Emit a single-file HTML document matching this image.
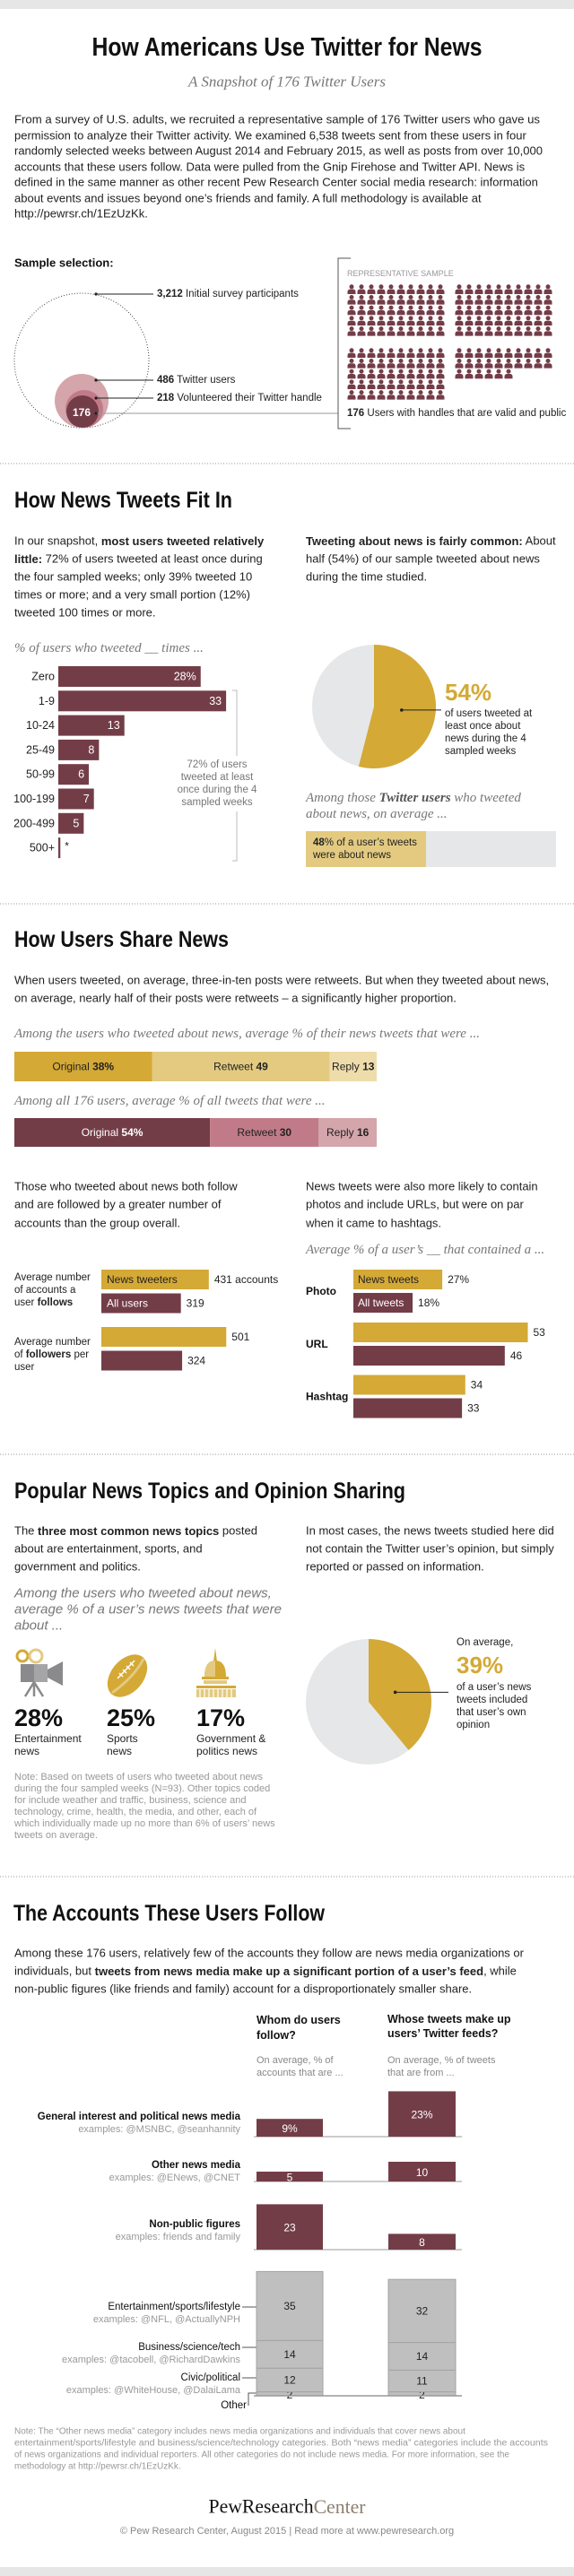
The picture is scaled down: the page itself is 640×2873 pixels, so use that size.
<!DOCTYPE html>
<html><head><meta charset="utf-8"><title>How Americans Use Twitter for News</title>
<style>
html,body{margin:0;padding:0;background:#fff;}
svg{display:block;}
text{font-family:"Liberation Sans",sans-serif;}
.h{font-family:"Liberation Sans Narrow","Liberation Sans",sans-serif;font-weight:bold;fill:#111;}
.b{font-size:13px;fill:#222;}
.it{font-family:"Liberation Serif",serif;font-style:italic;fill:#777;font-size:15px;}
.sm{font-size:11.5px;fill:#222;}
.g{fill:#999;}
.n{font-size:11px;fill:#999;}
</style></head>
<body>
<svg id="page" width="640" height="2873" viewBox="0 0 640 2873" xmlns="http://www.w3.org/2000/svg" dominant-baseline="central">
<defs>
<symbol id="person" viewBox="0 0 10 11"><circle cx="5" cy="2.8" r="2.5" fill="#733d48"/><path d="M0.5 11 L0.5 8.6 Q0.5 5.8 3.2 5.6 L6.8 5.6 Q9.5 5.8 9.5 8.6 L9.5 11 Z" fill="#733d48"/></symbol>
</defs>
<rect x="0" y="0" width="640" height="10" fill="#e6e6e6"/>
<text class="h" x="320" y="53" font-size="29" text-anchor="middle" textLength="435" lengthAdjust="spacingAndGlyphs">How Americans Use Twitter for News</text>
<text x="320" y="91" font-size="17" text-anchor="middle" style="font-family:'Liberation Serif',serif;font-style:italic;fill:#777">A Snapshot of 176 Twitter Users</text>
<g class="b">
<text x="16" y="133" textLength="586" lengthAdjust="spacingAndGlyphs">From a survey of U.S. adults, we recruited a representative sample of 176 Twitter users who gave us</text>
<text x="16" y="151">permission to analyze their Twitter activity. We examined 6,538 tweets sent from these users in four</text>
<text x="16" y="168">randomly selected weeks between August 2014 and February 2015, as well as posts from over 10,000</text>
<text x="16" y="186">accounts that these users follow. Data were pulled from the Gnip Firehose and Twitter API. News is</text>
<text x="16" y="203">defined in the same manner as other recent Pew Research Center social media research: information</text>
<text x="16" y="221">about events and issues beyond one’s friends and family. A full methodology is available at</text>
<text x="16" y="238">http://pewrsr.ch/1EzUzKk.</text>
</g>
<text x="16" y="293" font-size="13" font-weight="bold" fill="#111">Sample selection:</text>
<g>
<circle cx="91" cy="402" r="75" fill="none" stroke="#444" stroke-width="1" stroke-dasharray="1,2"/>
<circle cx="91" cy="447" r="30" fill="#d4a5ab"/>
<circle cx="94" cy="456" r="21" fill="#c17b88"/>
<circle cx="92" cy="459" r="18" fill="#733d48"/>
<text x="91" y="460" font-size="12" fill="#fff" font-weight="bold" text-anchor="middle">176</text>
<line x1="107" y1="328" x2="171" y2="328" stroke="#222"/><circle cx="107" cy="328" r="1.6" fill="#222"/>
<line x1="107" y1="424" x2="171" y2="424" stroke="#222"/><circle cx="107" cy="424" r="1.6" fill="#222"/>
<line x1="107" y1="444" x2="171" y2="444" stroke="#222"/><circle cx="107" cy="444" r="1.6" fill="#222"/>
<line x1="107" y1="461" x2="377" y2="461" stroke="#999"/><circle cx="107" cy="461" r="1.6" fill="#222"/>
<text x="175" y="328" font-size="11.5" fill="#222"><tspan font-weight="bold">3,212</tspan>  Initial survey participants</text>
<text x="175" y="424" font-size="11.5" fill="#222"><tspan font-weight="bold">486</tspan>  Twitter users</text>
<text x="175" y="444" font-size="11.5" fill="#222"><tspan font-weight="bold">218</tspan>  Volunteered their Twitter handle</text>
<path d="M391 288 L377 288 L377 478 L391 478" fill="none" stroke="#555"/>
<text x="387" y="305" font-size="9" fill="#999">REPRESENTATIVE SAMPLE</text>
<g id="people"></g>
<text x="387" y="461" font-size="11.5" fill="#222"><tspan font-weight="bold">176</tspan> Users with handles that are valid and public</text>
</g>
<line x1="0" y1="517" x2="640" y2="517" stroke="#999" stroke-dasharray="1,2"/>

<text class="h" x="16" y="558" font-size="25" textLength="243" lengthAdjust="spacingAndGlyphs">How News Tweets Fit In</text>
<g class="b">
<text x="16" y="603">In our snapshot, <tspan font-weight="bold">most users tweeted relatively</tspan></text>
<text x="16" y="623"><tspan font-weight="bold">little:</tspan> 72% of users tweeted at least once during</text>
<text x="16" y="643">the four sampled weeks; only 39% tweeted 10</text>
<text x="16" y="663">times or more; and a very small portion (12%)</text>
<text x="16" y="683">tweeted 100 times or more.</text>
</g>
<g class="b">
<text x="341" y="603"><tspan font-weight="bold">Tweeting about news is fairly common:</tspan> About</text>
<text x="341" y="623">half (54%) of our sample tweeted about news</text>
<text x="341" y="643">during the time studied.</text>
</g>
<text class="it" x="16" y="723">% of users who tweeted __ times ...</text>
<g id="tweetBars"></g>
<g>
<path d="M259 770 L264 770 L264 843 M264 905 L264 960 L259 960" fill="none" stroke="#bbb"/>
<text x="242" y="853" font-size="11.5" fill="#777" text-anchor="middle">72% of users</text>
<text x="242" y="867" font-size="11.5" fill="#777" text-anchor="middle">tweeted at least</text>
<text x="242" y="881" font-size="11.5" fill="#777" text-anchor="middle">once during the 4</text>
<text x="242" y="895" font-size="11.5" fill="#777" text-anchor="middle">sampled weeks</text>
</g>
<g id="pie1"></g>
<g>
<text id="pie1Label" x="496" y="772" font-size="26" font-weight="bold" fill="#d4a935"></text>
<text x="496" y="796" font-size="11.5" fill="#222">of users tweeted at</text>
<text x="496" y="810" font-size="11.5" fill="#222">least once about</text>
<text x="496" y="824" font-size="11.5" fill="#222">news during the 4</text>
<text x="496" y="838" font-size="11.5" fill="#222">sampled weeks</text>
</g>
<text class="it" x="341" y="890">Among those <tspan font-weight="bold" fill="#555">Twitter users</tspan> who tweeted</text>
<text class="it" x="341" y="908">about news, on average ...</text>
<g id="shareBox"></g>
<text x="349" y="940" font-size="11.5" fill="#222"><tspan id="shareBoxVal" font-weight="bold"></tspan>% of a user’s tweets</text>
<text x="349" y="954" font-size="11.5" fill="#222">were about news</text>
<line x1="0" y1="1008" x2="640" y2="1008" stroke="#999" stroke-dasharray="1,2"/>

<text class="h" x="16" y="1048" font-size="25" textLength="239" lengthAdjust="spacingAndGlyphs">How Users Share News</text>
<g class="b">
<text x="16" y="1093">When users tweeted, on average, three-in-ten posts were retweets. But when they tweeted about news,</text>
<text x="16" y="1113">on average, nearly half of their posts were retweets – a significantly higher proportion.</text>
</g>
<text class="it" x="16" y="1153">Among the users who tweeted about news, average % of their news tweets that were ...</text>
<g id="shareNews"></g>
<text class="it" x="16" y="1228">Among all 176 users, average % of all tweets that were ...</text>
<g id="shareAll"></g>

<g class="b">
<text x="16" y="1323">Those who tweeted about news both follow</text>
<text x="16" y="1343">and are followed by a greater number of</text>
<text x="16" y="1364">accounts than the group overall.</text>
</g>
<g class="b">
<text x="341" y="1323">News tweets were also more likely to contain</text>
<text x="341" y="1343">photos and include URLs, but were on par</text>
<text x="341" y="1364">when it came to hashtags.</text>
</g>
<text class="it" x="341" y="1394">Average % of a user’s __ that contained a ...</text>
<g class="sm">
<text x="16" y="1425">Average number</text><text x="16" y="1439">of accounts a</text><text x="16" y="1453">user <tspan font-weight="bold">follows</tspan></text>
<text x="16" y="1497">Average number</text><text x="16" y="1511">of <tspan font-weight="bold">followers</tspan> per</text><text x="16" y="1525">user</text>
</g>
<g id="followBars"></g>
<g id="contentBars"></g>
<line x1="0" y1="1622" x2="640" y2="1622" stroke="#999" stroke-dasharray="1,2"/>

<text class="h" x="16" y="1663" font-size="25" textLength="436" lengthAdjust="spacingAndGlyphs">Popular News Topics and Opinion Sharing</text>
<g class="b">
<text x="16" y="1707">The <tspan font-weight="bold">three most common news topics</tspan> posted</text>
<text x="16" y="1727">about are entertainment, sports, and</text>
<text x="16" y="1747">government and politics.</text>
</g>
<g class="b">
<text x="341" y="1707">In most cases, the news tweets studied here did</text>
<text x="341" y="1727">not contain the Twitter user’s opinion, but simply</text>
<text x="341" y="1747">reported or passed on information.</text>
</g>
<g class="it">
<text x="16" y="1777">Among the users who tweeted about news,</text>
<text x="16" y="1795">average % of a user’s news tweets that were</text>
<text x="16" y="1813">about ...</text>
</g>
<g>
<circle cx="25" cy="1847" r="6" fill="none" stroke="#d4a935" stroke-width="3"/>
<circle cx="40" cy="1847" r="7" fill="none" stroke="#e3ca80" stroke-width="3"/>
<rect x="23" y="1856" width="30" height="20" fill="#8a8a8c"/><rect x="38" y="1856" width="15" height="20" fill="#a5a5a7"/>
<path d="M53 1862 L70 1853 L70 1880 L53 1871 Z" fill="#8a8a8c"/>
<path d="M38 1876 L28 1892 M38 1876 L38 1892 M38 1876 L48 1892" stroke="#8a8a8c" stroke-width="2.5"/>
</g>
<g>
<ellipse cx="142" cy="1869" rx="27" ry="18" transform="rotate(-50 142 1869)" fill="#d4a935"/>
<path d="M125 1888 Q150 1870 160 1850" stroke="#e3ca80" stroke-width="3" fill="none"/>
<path d="M131 1872 L150 1852" stroke="#fff" stroke-width="1.5"/>
<path d="M133 1866 l4 4 M137 1862 l4 4 M141 1858 l4 4 M145 1854 l4 4" stroke="#fff" stroke-width="1.5"/>
</g>
<g>
<path d="M240 1838 L242 1853 L238 1853 Z" fill="#d4a935"/>
<path d="M228 1870 Q228 1852 240 1852 Q252 1852 252 1870 Z" fill="#d4a935"/>
<path d="M228 1870 Q228 1852 240 1852 L240 1870 Z" fill="#e3ca80"/>
<rect x="225" y="1870" width="30" height="3" fill="#d4a935"/>
<rect x="227" y="1874" width="26" height="4" fill="#e3ca80"/>
<rect x="219" y="1880" width="44" height="3" fill="#d4a935"/>
<rect x="219" y="1884" width="44" height="9" fill="#e3ca80"/>
<path d="M223 1884 v9 M228 1884 v9 M233 1884 v9 M238 1884 v9 M243 1884 v9 M248 1884 v9 M253 1884 v9 M258 1884 v9" stroke="#fff" stroke-width="1.2"/>
</g>
<g id="topics"></g>
<g class="n">
<text x="16" y="1982">Note: Based on tweets of users who tweeted about news</text>
<text x="16" y="1995">during the four sampled weeks (N=93). Other topics coded</text>
<text x="16" y="2008">for include weather and traffic, business, science and</text>
<text x="16" y="2021">technology, crime, health, the media, and other, each of</text>
<text x="16" y="2034">which individually made up no more than 6% of users’ news</text>
<text x="16" y="2047">tweets on average.</text>
</g>
<g id="pie2"></g>
<g>
<text x="509" y="1832" font-size="11.5" fill="#222">On average,</text>
<text id="pie2Label" x="509" y="1857" font-size="26" font-weight="bold" fill="#d4a935"></text>
<text x="509" y="1882" font-size="11.5" fill="#222">of a user’s news</text>
<text x="509" y="1896" font-size="11.5" fill="#222">tweets included</text>
<text x="509" y="1910" font-size="11.5" fill="#222">that user’s own</text>
<text x="509" y="1924" font-size="11.5" fill="#222">opinion</text>
</g>
<line x1="0" y1="2093" x2="640" y2="2093" stroke="#999" stroke-dasharray="1,2"/>

<text class="h" x="15" y="2134" font-size="25" textLength="347" lengthAdjust="spacingAndGlyphs">The Accounts These Users Follow</text>
<g class="b">
<text x="16" y="2178">Among these 176 users, relatively few of the accounts they follow are news media organizations or</text>
<text x="16" y="2198">individuals, but <tspan font-weight="bold">tweets from news media make up a significant portion of a user’s feed</tspan>, while</text>
<text x="16" y="2218">non-public figures (like friends and family) account for a disproportionately smaller share.</text>
</g>
<g>
<text x="286" y="2253" font-size="12.5" font-weight="bold" fill="#111">Whom do users</text>
<text x="286" y="2270" font-size="12.5" font-weight="bold" fill="#111">follow?</text>
<text x="432" y="2252" font-size="12.5" font-weight="bold" fill="#111">Whose tweets make up</text>
<text x="432" y="2268" font-size="12.5" font-weight="bold" fill="#111">users’ Twitter feeds?</text>
<text x="286" y="2298" font-size="11" fill="#888">On average, % of</text>
<text x="286" y="2312" font-size="11" fill="#888">accounts that are ...</text>
<text x="432" y="2298" font-size="11" fill="#888">On average, % of tweets</text>
<text x="432" y="2312" font-size="11" fill="#888">that are from ...</text>
</g>
<g text-anchor="end">
<text x="268" y="2361" font-size="11.5" font-weight="bold" fill="#111">General interest and political news media</text>
<text x="268" y="2375" font-size="11" fill="#999">examples: @MSNBC, @seanhannity</text>
<text x="268" y="2415" font-size="11.5" font-weight="bold" fill="#111">Other news media</text>
<text x="268" y="2429" font-size="11" fill="#999">examples: @ENews, @CNET</text>
<text x="268" y="2481" font-size="11.5" font-weight="bold" fill="#111">Non-public figures</text>
<text x="268" y="2495" font-size="11" fill="#999">examples: friends and family</text>
<text x="268" y="2573" font-size="11.5" fill="#111">Entertainment/sports/lifestyle</text>
<text x="268" y="2587" font-size="11" fill="#999">examples: @NFL, @ActuallyNPH</text>
<text x="268" y="2618" font-size="11.5" fill="#111">Business/science/tech</text>
<text x="268" y="2632" font-size="11" fill="#999">examples: @tacobell, @RichardDawkins</text>
<text x="268" y="2652" font-size="11.5" fill="#111">Civic/political</text>
<text x="268" y="2666" font-size="11" fill="#999">examples: @WhiteHouse, @DalaiLama</text>
<text x="275" y="2683" font-size="11.5" fill="#111">Other</text>
</g>
<path d="M270 2573 H286 M270 2618 H286 M270 2652 H286 M277 2683 V2669 H286" stroke="#555" fill="none"/>
<g id="accountBars"></g>
<g class="n" font-size="10">
<text x="16" y="2712" font-size="10">Note: The “Other news media” category includes news media organizations and individuals that cover news about</text>
<text x="16" y="2725" font-size="10" textLength="595" lengthAdjust="spacingAndGlyphs">entertainment/sports/lifestyle and business/science/technology categories. Both “news media” categories include the accounts</text>
<text x="16" y="2738" font-size="10">of news organizations and individual reporters. All other categories do not include news media. For more information, see the</text>
<text x="16" y="2751" font-size="10">methodology at http://pewrsr.ch/1EzUzKk.</text>
</g>
<text x="320" y="2795" text-anchor="middle" font-size="22" textLength="175" lengthAdjust="spacingAndGlyphs" style="font-family:'Liberation Serif',serif" fill="#111">PewResearch<tspan fill="#8d7f6d">Center</tspan></text>
<text x="320" y="2823" text-anchor="middle" font-size="11" fill="#888">© Pew Research Center, August 2015  |  Read more at www.pewresearch.org</text>
<rect x="0" y="2863" width="640" height="10" fill="#e6e6e6"/>
</svg>
<script>
var sampleCount = [176];
var tweetCountCats = ['Zero','1-9','10-24','25-49','50-99','100-199','200-499','500+'];
var tweetCountVals = [28,33,13,8,6,7,5,0.4];
var tweetCountLabels = ['28%','33','13','8','6','7','5','*'];
var pie1Vals = [54];
var newsShareVals = [48];
var shareCats = ['Original','Retweet','Reply'];
var shareNewsVals = [38,49,13];
var shareAllVals = [54,30,16];
var followCats = ['follows','followers'];
var followNewsVals = [431,501];
var followAllVals = [319,324];
var contentCats = ['Photo','URL','Hashtag'];
var contentNewsVals = [27,53,34];
var contentAllVals = [18,46,33];
var topicCats = ['Entertainment|news','Sports|news','Government &|politics news'];
var topicVals = [28,25,17];
var opinionVals = [39];
var acctCats = ['General interest and political news media','Other news media','Non-public figures'];
var acctFollowVals = [9,5,23];
var acctFeedVals = [23,10,8];
var stackCats = ['Other','Civic/political','Business/science/tech','Entertainment/sports/lifestyle'];
var stackFollowVals = [2,12,14,35];
var stackFeedVals = [2,11,14,32];

var NS='http://www.w3.org/2000/svg';
function mk(tag, parent){var e=document.createElementNS(NS,tag);parent.appendChild(e);return e;}
function at(e,o){for(var k in o)e.setAttribute(k,o[k]);return e;}

(function(){
  var g=document.getElementById('people');
  var origins=[[387,322],[507,322],[387,393],[507,393]];
  for(var i=0;i<sampleCount[0];i++){
    var b=Math.floor(i/50), k=i%50, r=Math.floor(k/10), c=k%10;
    if(b>3)break;
    var u=mk('use',g);
    at(u,{href:'#person',x:origins[b][0]+c*11,y:origins[b][1]+r*11.7-5,width:10,height:11});
    
    
  }
})();

(function(){
  var g=document.getElementById('tweetBars');
  var x0=65, sc=5.67, y0=743, pitch=27.3, h=23;
  function xs(v){return v*sc;}
  tweetCountCats.forEach(function(c,i){
    var y=y0+i*pitch, w=xs(tweetCountVals[i]);
    var r=mk('rect',g); at(r,{x:x0,y:y,width:w,height:h,fill:'#733d48'});
    
    
    var l=mk('text',g); at(l,{x:x0-4,y:y+h/2,'text-anchor':'end','font-size':12.5,fill:'#222'}); l.textContent=c;
    
    
    var v=mk('text',g);
    if(tweetCountVals[i]<2){at(v,{x:x0+w+5,y:y+h/2-2,'font-size':12,fill:'#222'});}
    else{at(v,{x:x0+w-5,y:y+h/2,'text-anchor':'end','font-size':12.5,fill:'#fff'});}
    v.textContent=tweetCountLabels[i];
    
    
  });
})();

function pie(id,cx,cy,r,frac,dotAngle,lineTo){
  var g=document.getElementById(id);
  var bg=mk('circle',g); at(bg,{cx:cx,cy:cy,r:r,fill:'#e6e7e8'});
  
  
  var a=frac*2*Math.PI, ex=cx+r*Math.sin(a), ey=cy-r*Math.cos(a);
  var p=mk('path',g); at(p,{d:'M'+cx+' '+cy+' L'+cx+' '+(cy-r)+' A'+r+' '+r+' 0 '+(frac>0.5?1:0)+' 1 '+ex+' '+ey+' Z',fill:'#d4a935'});
  
  
  var d=dotAngle, dx=cx+r*0.45*Math.sin(d), dy=cy-r*0.45*Math.cos(d);
  var ln=mk('line',g); at(ln,{x1:dx,y1:dy,x2:lineTo,y2:dy,stroke:'#222'});
  
  
  var c=mk('circle',g); at(c,{cx:dx,cy:dy,r:1.8,fill:'#222'});
  
  
}
pie('pie1',417,788,69,pie1Vals[0]/100,pie1Vals[0]/100*Math.PI,492);
document.getElementById('pie1Label').textContent=pie1Vals[0]+'%';
pie('pie2',411,1898,70,opinionVals[0]/100,opinionVals[0]/100*Math.PI,500);
document.getElementById('pie2Label').textContent=opinionVals[0]+'%';

(function(){
  var g=document.getElementById('shareBox');
  var x0=341,w=279;
  var bg=mk('rect',g); at(bg,{x:x0,y:927,width:w,height:40,fill:'#e6e7e8'});
  
  
  var r=mk('rect',g); at(r,{x:x0,y:927,width:w*newsShareVals[0]/100,height:40,fill:'#e3ca80'});
  
  
  document.getElementById('shareBoxVal').textContent=newsShareVals[0];
})();

function stack(id,vals,y,h,colors,txt){
  var g=document.getElementById(id);
  var x=16, W=404;
  vals.forEach(function(v,i){
    var w=W*v/100;
    var r=mk('rect',g); at(r,{x:x,y:y,width:w,height:h,fill:colors[i]});
    
    
    var t=mk('text',g); at(t,{x:x+w/2,y:y+h/2,'text-anchor':'middle','font-size':12,fill:txt[i]});
    t.textContent=shareCats[i]+' ';
    var b=mk('tspan',t); at(b,{'font-weight':'bold'}); b.textContent=v+(i==0?'%':'');
    
    
    x+=w;
  });
}
stack('shareNews',shareNewsVals,1173,33,['#d4a935','#e3ca80','#eedcaa'],['#222','#222','#222']);
stack('shareAll',shareAllVals,1247,32,['#733d48','#c17b88','#d4a5ab'],['#fff','#222','#222']);

(function(){
  var g=document.getElementById('followBars');
  var x0=113, sc=0.278, tops=[1416,1480], h=22;
  followCats.forEach(function(c,i){
    [[followNewsVals[i],'#d4a935','News tweeters','#222'],[followAllVals[i],'#733d48','All users','#fff']].forEach(function(s,j){
      var y=tops[i]+j*26.5, w=s[0]*sc;
      var r=mk('rect',g); at(r,{x:x0,y:y,width:w,height:h,fill:s[1]});
      
      
      if(i==0){var l=mk('text',g); at(l,{x:x0+6,y:y+h/2,'font-size':12,fill:s[3]}); l.textContent=s[2];
        
        }
      var v=mk('text',g); at(v,{x:x0+w+6,y:y+h/2,'font-size':12,fill:'#222'}); v.textContent=s[0]+(i==0&&j==0?' accounts':'');
      
      
    });
  });
})();

(function(){
  var g=document.getElementById('contentBars');
  var x0=394, sc=3.67, tops=[1416,1475,1533.5], h=22;
  contentCats.forEach(function(c,i){
    var cl=mk('text',g); at(cl,{x:341,y:tops[i]+24,'font-size':12,'font-weight':'bold',fill:'#111'}); cl.textContent=c;
    
    
    [[contentNewsVals[i],'#d4a935','News tweets','#222'],[contentAllVals[i],'#733d48','All tweets','#fff']].forEach(function(s,j){
      var y=tops[i]+j*26, w=s[0]*sc;
      var r=mk('rect',g); at(r,{x:x0,y:y,width:w,height:h,fill:s[1]});
      
      
      if(i==0){var l=mk('text',g); at(l,{x:x0+5,y:y+h/2,'font-size':12,fill:s[3]}); l.textContent=s[2];
        
        }
      var v=mk('text',g); at(v,{x:x0+w+6,y:y+h/2,'font-size':12,fill:'#222'}); v.textContent=s[0]+(i==0?'%':'');
      
      
    });
  });
})();

(function(){
  var g=document.getElementById('topics');
  var xs=[16,119,219];
  topicCats.forEach(function(c,i){
    var t=mk('text',g); at(t,{x:xs[i],y:1916,'font-size':27,'font-weight':'bold',fill:'#111'}); t.textContent=topicVals[i]+'%';
    
    
    c.split('|').forEach(function(line,k){
      var l=mk('text',g); at(l,{x:xs[i],y:1939+k*14,'font-size':12,fill:'#222'}); l.textContent=line;
      
      
    });
  });
})();

(function(){
  var g=document.getElementById('accountBars');
  var sc=2.2, bases=[2383,2433,2509], cols=[[286,74],[433,75]];
  var sets=[acctFollowVals,acctFeedVals];
  acctCats.forEach(function(c,i){
    var bl=mk('line',g); at(bl,{x1:283,x2:515,y1:bases[i],y2:bases[i],stroke:'#bbb','stroke-width':1.5});
    
    
    sets.forEach(function(vals,j){
      var h=vals[i]*sc;
      var r=mk('rect',g); at(r,{x:cols[j][0],y:bases[i]-h,width:cols[j][1],height:h,fill:'#733d48'});
      
      
      var t=mk('text',g); at(t,{x:cols[j][0]+cols[j][1]/2,y:bases[i]-h/2+1,'text-anchor':'middle','font-size':12,fill:'#fff'}); t.textContent=vals[i]+(i==0?'%':'');
      
      
    });
  });
  var base=2672, ssets=[stackFollowVals,stackFeedVals];
  ssets.forEach(function(vals,j){
    var y=base;
    vals.forEach(function(v,k){
      var h=v*sc;
      var r=mk('rect',g); at(r,{x:cols[j][0],y:y-h,width:cols[j][1],height:h,fill:'#bfbfbf',stroke:'#a3a3a3','stroke-width':1});
      
      
      var t=mk('text',g); at(t,{x:cols[j][0]+cols[j][1]/2,y:y-h/2+(k==0?1:0),'text-anchor':'middle','font-size':12,fill:'#222'}); t.textContent=v;
      
      
      y-=h;
    });
  });
  var bl=mk('line',g); at(bl,{x1:283,x2:515,y1:base,y2:base,stroke:'#999','stroke-width':1.5});
  
  
})();
</script>
</body></html>
